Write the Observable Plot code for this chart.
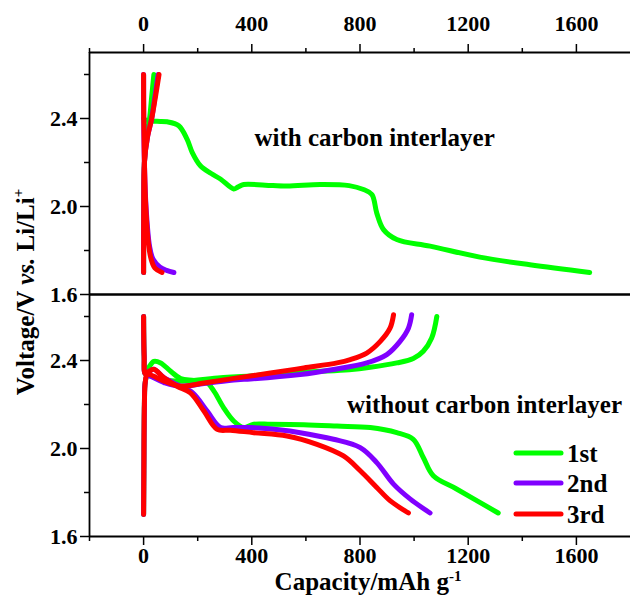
<!DOCTYPE html>
<html>
<head>
<meta charset="utf-8">
<script src="https://cdn.jsdelivr.net/npm/d3@7"></script>
<script src="https://cdn.jsdelivr.net/npm/@observablehq/plot@0.6"></script>
<style>
  html, body { margin: 0; padding: 0; background: #fff; }
  #chart { width: 630px; height: 599px; }
  #chart svg { font-family: "Liberation Serif", "Times New Roman", serif !important; font-weight: bold; }
</style>
</head>
<body>
<div id="chart"></div>
<script>
// ---------- data: [capacity (mAh/g), voltage (V)] ----------
const panels = ["with", "without"];
const cycles = ["1st", "2nd", "3rd"];
const cycleColors = ["#00ff00", "#8000ff", "#ff0000"];
const xTicks = [0, 400, 800, 1200, 1600];
const xMinorTicks = [-200, 200, 600, 1000, 1400];
const yTicks = [1.6, 2.0, 2.4];
const yMinorTicks = [1.8, 2.2, 2.6];

// with carbon interlayer
const with1stDischarge = [[0,2.40],[10,2.392],[50,2.387],[87,2.385],[130,2.367],[161,2.305],[180,2.245],[210,2.185],[250,2.15],[284,2.125],[333,2.08],[348,2.088],[370,2.10],[450,2.097],[530,2.093],[653,2.10],[760,2.095],[813,2.077],[844,2.055],[862,1.97],[887,1.895],[936,1.85],[1059,1.82],[1243,1.77],[1428,1.735],[1649,1.70]];
const with1stCharge = [[0,1.70],[0.5,2.0],[3,2.2],[12,2.33],[22,2.40],[30,2.5],[38,2.6]];
const with2ndDischarge = [[0,2.6],[0.5,2.4],[3,2.2],[9,2.0],[22,1.82],[35,1.76],[60,1.725],[85,1.71],[112,1.70]];
const with2ndCharge = [[0,1.7],[0.5,2.0],[3,2.2],[15,2.32],[30,2.4],[42,2.5],[54,2.6]];
const with3rdDischarge = [[0,2.6],[0.5,2.4],[3,2.2],[8,2.0],[18,1.83],[28,1.76],[42,1.72],[68,1.70]];
const with3rdCharge = [[0,1.7],[0.5,2.0],[3,2.2],[15,2.32],[30,2.4],[44,2.5],[57,2.6]];

// without carbon interlayer
const without1stDischarge = [[0,2.6],[2,2.42],[6,2.34],[20,2.37],[38,2.396],[63,2.389],[100,2.351],[137,2.318],[186,2.309],[235,2.298],[260,2.261],[296,2.185],[333,2.125],[370,2.095],[407,2.11],[469,2.11],[592,2.108],[715,2.102],[838,2.095],[936,2.072],[997,2.042],[1034,1.959],[1071,1.876],[1157,1.816],[1311,1.707]];
const without1stCharge = [[0,1.7],[1,1.9],[3,2.2],[6,2.3],[14,2.33],[60,2.315],[143,2.306],[284,2.322],[395,2.33],[530,2.343],[641,2.35],[760,2.358],[838,2.369],[936,2.389],[997,2.409],[1034,2.442],[1065,2.502],[1084,2.60]];
const without2ndDischarge = [[0,2.6],[2,2.42],[6,2.34],[20,2.35],[38,2.36],[75,2.322],[124,2.29],[180,2.255],[235,2.17],[285,2.095],[330,2.095],[395,2.095],[500,2.085],[579,2.072],[702,2.042],[801,2.004],[862,1.936],[924,1.838],[985,1.771],[1059,1.707]];
const without2ndCharge = [[0,1.7],[1,1.9],[3,2.2],[6,2.3],[14,2.33],[75,2.30],[137,2.283],[223,2.295],[346,2.313],[395,2.316],[579,2.336],[702,2.359],[825,2.389],[899,2.427],[948,2.487],[979,2.547],[991,2.608]];
const without3rdDischarge = [[0,2.6],[2,2.42],[6,2.34],[20,2.35],[38,2.36],[75,2.321],[124,2.283],[173,2.253],[223,2.17],[272,2.087],[321,2.083],[407,2.072],[530,2.057],[641,2.019],[739,1.966],[801,1.899],[862,1.823],[911,1.763],[979,1.707]];
const without3rdCharge = [[0,1.7],[1,1.9],[3,2.2],[6,2.3],[14,2.336],[75,2.306],[137,2.283],[223,2.298],[346,2.321],[469,2.343],[592,2.366],[715,2.389],[764,2.404],[825,2.434],[875,2.487],[911,2.547],[924,2.608]];

const panelLabels = {with: "with carbon interlayer", without: "without carbon interlayer"};

// ---------- build table ----------
const series = [
  ["with", "1st", "d", with1stDischarge], ["with", "1st", "c", with1stCharge],
  ["with", "2nd", "d", with2ndDischarge], ["with", "2nd", "c", with2ndCharge],
  ["with", "3rd", "d", with3rdDischarge], ["with", "3rd", "c", with3rdCharge],
  ["without", "1st", "d", without1stDischarge], ["without", "1st", "c", without1stCharge],
  ["without", "2nd", "d", without2ndDischarge], ["without", "2nd", "c", without2ndCharge],
  ["without", "3rd", "d", without3rdDischarge], ["without", "3rd", "c", without3rdCharge]
];
const rows = series.flatMap(([panel, cycle, half, pts]) =>
  pts.map(([cap, v]) => ({panel, cycle, key: panel + cycle + half, cap, v})));

const FONT = "'Liberation Serif', 'Times New Roman', serif";

const chart = Plot.plot({
  width: 630,
  height: 599,
  marginTop: 51,
  marginBottom: 63,
  marginLeft: 89,
  marginRight: 0,
  style: {fontFamily: FONT, fontWeight: "bold", fontSize: "21px", background: "#fff", color: "#000", overflow: "visible"},
  x: {domain: [-200, 1800]},
  y: {domain: [1.6, 2.7]},
  fy: {domain: panels, padding: 0, axis: null, label: null},
  color: {domain: cycles, range: cycleColors},
  marks: [
    Plot.line(rows, {x: "cap", y: "v", z: "key", fy: "panel", stroke: "cycle",
      strokeWidth: 5, strokeLinecap: "round", strokeLinejoin: "round", curve: "catmull-rom"}),
    Plot.text(panels, {fy: d => d, x: d => d === "with" ? 410 : 752, y: d => d === "with" ? 2.31 : 2.20,
      text: d => panelLabels[d], textAnchor: "start", fontSize: 25, fontWeight: "bold", fill: "#000"}),
    Plot.ruleY([1.6, 2.7], {stroke: "#000", strokeWidth: 1.8}),
    Plot.ruleX([-200], {stroke: "#000", strokeWidth: 1.8}),
    Plot.axisY({ticks: yTicks, tickSize: 9, tickPadding: 3, tickFormat: d3.format(".1f"), label: null, strokeWidth: 1.5, fontSize: 22}),
    Plot.axisY({ticks: yMinorTicks, tickSize: 5, tickFormat: () => "", label: null, strokeWidth: 1.5}),
    Plot.axisX({anchor: "top", ticks: xTicks, tickSize: 9, tickPadding: 13, tickFormat: d => String(d), label: null, strokeWidth: 1.5, fontSize: 22}),
    Plot.axisX({anchor: "top", ticks: xMinorTicks, tickSize: 5, tickFormat: () => "", label: null, strokeWidth: 1.5}),
    Plot.axisX({anchor: "bottom", ticks: xTicks, tickSize: 9, tickPadding: 2, tickFormat: d => String(d), label: null, strokeWidth: 1.5, fontSize: 22}),
    Plot.axisX({anchor: "bottom", ticks: xMinorTicks, tickSize: 5, tickFormat: () => "", label: null, strokeWidth: 1.5})
  ]
});

document.getElementById("chart").appendChild(chart);

// ---------- titles and legend ----------
const svg = d3.select(chart);

const xt = svg.append("text")
  .attr("x", 368).attr("y", 590)
  .attr("text-anchor", "middle")
  .attr("font-family", FONT).attr("font-weight", "bold").attr("font-size", 25)
  .attr("fill", "#000");
xt.append("tspan").text("Capacity/mAh g");
xt.append("tspan").attr("dy", -9).attr("font-size", 15).text("-1");

const yt = svg.append("text")
  .attr("transform", "translate(34,292) rotate(-90)")
  .attr("text-anchor", "middle")
  .attr("font-family", FONT).attr("font-weight", "bold").attr("font-size", 25)
  .attr("fill", "#000");
yt.append("tspan").text("Voltage/V ");
yt.append("tspan").attr("font-style", "italic").text("vs.");
yt.append("tspan").text(" Li/Li");
yt.append("tspan").attr("dy", -11).attr("font-size", 15).text("+");

const legendY = [453, 483, 514];
cycles.forEach((c, i) => {
  svg.append("line")
    .attr("x1", 516).attr("x2", 561).attr("y1", legendY[i]).attr("y2", legendY[i])
    .attr("stroke", cycleColors[i]).attr("stroke-width", 5).attr("stroke-linecap", "round");
  svg.append("text")
    .attr("x", 567).attr("y", legendY[i]).attr("dy", "0.35em")
    .attr("text-anchor", "start")
    .attr("font-family", FONT).attr("font-weight", "bold").attr("font-size", 25)
    .attr("fill", "#000").text(c);
});
</script>
</body>
</html>
